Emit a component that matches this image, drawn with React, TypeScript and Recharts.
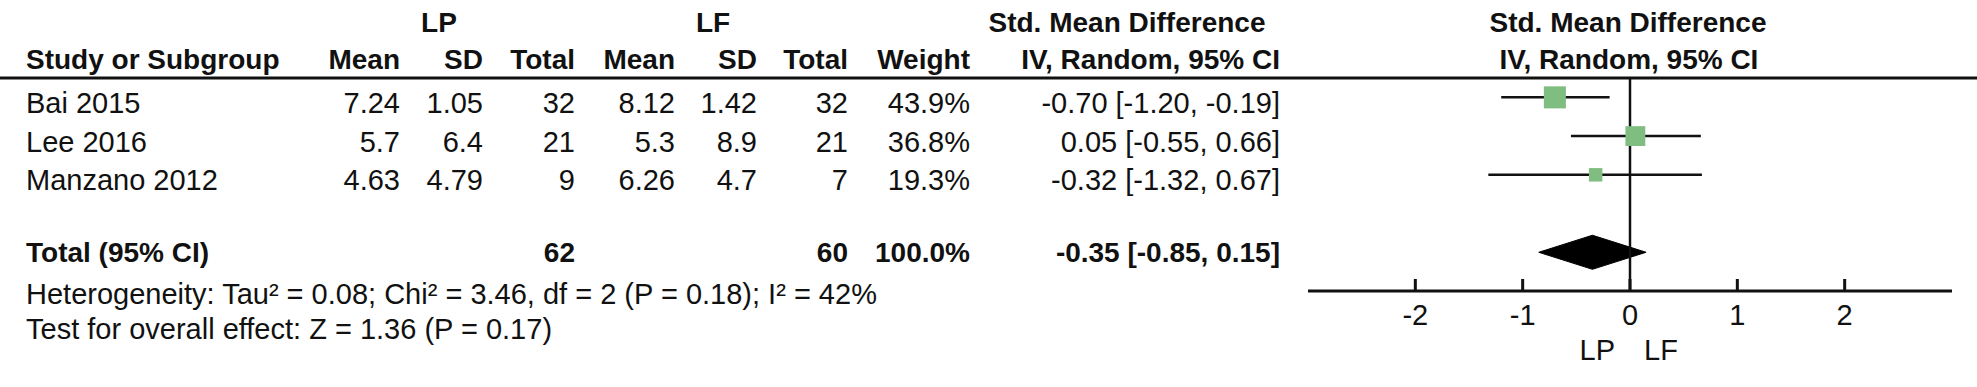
import React from 'react';
import { ScatterChart, Scatter, XAxis, YAxis, ReferenceLine, ReferenceArea, ErrorBar } from 'recharts';

// ---------- data ----------
const studies = ['Bai 2015', 'Lee 2016', 'Manzano 2012'];
const lpMean = [7.24, 5.7, 4.63];
const lpSD = [1.05, 6.4, 4.79];
const lpTotal = [32, 21, 9];
const lfMean = [8.12, 5.3, 6.26];
const lfSD = [1.42, 8.9, 4.7];
const lfTotal = [32, 21, 7];
const weights = [43.9, 36.8, 19.3];
const smd = [-0.7, 0.05, -0.32];
const ciLow = [-1.2, -0.55, -1.32];
const ciHigh = [-0.19, 0.66, 0.67];

const totalLP = 62;
const totalLF = 60;
const totalWeight = 100.0;
const totalSmd = -0.35;
const totalLow = -0.85;
const totalHigh = 0.15;

const heterogeneityText = 'Heterogeneity: Tau\u00B2 = 0.08; Chi\u00B2 = 3.46, df = 2 (P = 0.18); I\u00B2 = 42%';
const overallText = 'Test for overall effect: Z = 1.36 (P = 0.17)';
const xTicks = [-2, -1, 0, 1, 2];
const xDomain = [-3, 3];
const groupA = 'LP';
const groupB = 'LF';

// ---------- derived table for the library ----------
const studyRows = studies.map((name, i) => ({
  name,
  x: smd[i],
  y: i,
  w: weights[i],
  err: [smd[i] - ciLow[i], ciHigh[i] - smd[i]],
}));
const totalRow = 4;
const yDomain = [-0.5, 5];

// ---------- styles ----------
const FONT = '"Liberation Sans", Arial, Helvetica, sans-serif';
const INK = '#111';
const GREEN = '#80bd80';
const NORMAL = { fontFamily: FONT, fontSize: 29, fill: INK } as const;
const BOLD = { fontFamily: FONT, fontSize: 28, fontWeight: 700, fill: INK } as const;

const fmt2 = (v: number) => v.toFixed(2);
const ciText = (e: number, l: number, h: number) => `${fmt2(e)} [${fmt2(l)}, ${fmt2(h)}]`;

// column anchors (px)
const COL = {
  study: 26,
  lpMean: 400,
  lpSD: 483,
  lpTotal: 575,
  lfMean: 675,
  lfSD: 757,
  lfTotal: 848,
  weight: 970,
  ci: 1280,
};
const ROW_BASE = [113, 152, 190];

function Table() {
  const R = (x: number, y: number, t: string | number, bold = false, key?: string) => (
    <text key={key} x={x} y={y} textAnchor="end" style={bold ? BOLD : NORMAL}>{t}</text>
  );
  return (
    <svg width={1977} height={387} style={{ position: 'absolute', left: 0, top: 0 }}>
      <rect x={0} y={0} width={1977} height={387} fill="#fff" />
      {/* header row 1 */}
      <text x={439} y={32} textAnchor="middle" style={BOLD}>{groupA}</text>
      <text x={713} y={32} textAnchor="middle" style={BOLD}>{groupB}</text>
      <text x={1127} y={32} textAnchor="middle" style={BOLD}>Std. Mean Difference</text>
      <text x={1628} y={32} textAnchor="middle" style={BOLD}>Std. Mean Difference</text>
      {/* header row 2 */}
      <text x={COL.study} y={69} style={BOLD}>Study or Subgroup</text>
      {R(COL.lpMean, 69, 'Mean', true)}
      {R(COL.lpSD, 69, 'SD', true)}
      {R(COL.lpTotal, 69, 'Total', true)}
      {R(COL.lfMean, 69, 'Mean', true)}
      {R(COL.lfSD, 69, 'SD', true)}
      {R(COL.lfTotal, 69, 'Total', true)}
      {R(COL.weight, 69, 'Weight', true)}
      {R(COL.ci, 69, 'IV, Random, 95% CI', true)}
      <text x={1629} y={69} textAnchor="middle" style={BOLD}>IV, Random, 95% CI</text>
      <line x1={0} y1={78} x2={1977} y2={78} stroke={INK} strokeWidth={3} />
      {/* study rows */}
      {studies.map((s, i) => (
        <g key={s}>
          <text x={COL.study} y={ROW_BASE[i]} style={NORMAL}>{s}</text>
          {R(COL.lpMean, ROW_BASE[i], String(lpMean[i]))}
          {R(COL.lpSD, ROW_BASE[i], String(lpSD[i]))}
          {R(COL.lpTotal, ROW_BASE[i], lpTotal[i])}
          {R(COL.lfMean, ROW_BASE[i], String(lfMean[i]))}
          {R(COL.lfSD, ROW_BASE[i], String(lfSD[i]))}
          {R(COL.lfTotal, ROW_BASE[i], lfTotal[i])}
          {R(COL.weight, ROW_BASE[i], weights[i].toFixed(1) + '%')}
          {R(COL.ci, ROW_BASE[i], ciText(smd[i], ciLow[i], ciHigh[i]))}
        </g>
      ))}
      {/* total row */}
      <text x={COL.study} y={262} style={BOLD}>Total (95% CI)</text>
      {R(COL.lpTotal, 262, totalLP, true)}
      {R(COL.lfTotal, 262, totalLF, true)}
      {R(COL.weight, 262, totalWeight.toFixed(1) + '%', true)}
      {R(COL.ci, 262, ciText(totalSmd, totalLow, totalHigh), true)}
      <text x={COL.study} y={304} style={NORMAL}>{heterogeneityText}</text>
      <text x={COL.study} y={339} style={NORMAL}>{overallText}</text>
    </svg>
  );
}

// tick: short upward mark from the axis line, label below
const AxisTick = (props: any) => {
  const { x, y, payload } = props;
  return (
    <g>
      <rect x={x - 1.5} y={y - 12} width={3} height={12} fill={INK} />
      <text x={x} y={y + 34} textAnchor="middle" style={NORMAL}>{String(payload.value)}</text>
    </g>
  );
};

const SquareShape = (props: any) => {
  const { cx, cy, payload } = props;
  const s = 2.28 * Math.pow(payload.w, 0.6);
  return <rect x={cx - s / 2} y={cy - s / 2} width={s} height={s} fill={GREEN} />;
};

const DiamondShape = (props: any) => {
  const { x, y, width, height } = props;
  const xe = x + (width * (totalSmd - totalLow)) / (totalHigh - totalLow);
  const pts = `${x},${y + height / 2} ${xe},${y} ${x + width},${y + height / 2} ${xe},${y + height}`;
  return <polygon points={pts} fill="#000" stroke="#000" strokeWidth={1} />;
};

const GroupLabels = (props: any) => {
  const vb = props.viewBox || {};
  const x0 = vb.x;
  const yAxis = (vb.y || 0) + (vb.height || 0);
  return (
    <g>
      <text x={x0 - 15} y={yAxis + 69} textAnchor="end" style={NORMAL}>{groupA}</text>
      <text x={x0 + 14} y={yAxis + 69} textAnchor="start" style={NORMAL}>{groupB}</text>
    </g>
  );
};

export default function App() {
  return (
    <div style={{ position: 'absolute', left: 0, top: 0, width: 1977, height: 387, background: '#fff' }}>
      <Table />
      <div style={{ position: 'absolute', left: 0, top: 0 }}>
        <ScatterChart width={1977} height={387} margin={{ top: 78, right: 25, bottom: 36, left: 1308 }}>
          <XAxis
            type="number"
            dataKey="x"
            domain={xDomain}
            ticks={xTicks}
            interval={0}
            allowDataOverflow
            height={60}
            axisLine={{ stroke: INK, strokeWidth: 3 }}
            tickLine={false}
            tickSize={0}
            tickMargin={0}
            tick={<AxisTick />}
          />
          <YAxis type="number" dataKey="y" domain={yDomain} reversed hide allowDataOverflow />
          <ReferenceLine x={0} stroke={INK} strokeWidth={2.5} label={<GroupLabels />} />
          <ReferenceArea
            x1={totalLow}
            x2={totalHigh}
            y1={totalRow - 0.44}
            y2={totalRow + 0.44}
            shape={<DiamondShape />}
          />
          <Scatter data={studyRows} shape={<SquareShape />} isAnimationActive={false}>
            <ErrorBar dataKey="err" direction="x" width={0} stroke={INK} strokeWidth={2.5} isAnimationActive={false} />
          </Scatter>
        </ScatterChart>
      </div>
    </div>
  );
}
